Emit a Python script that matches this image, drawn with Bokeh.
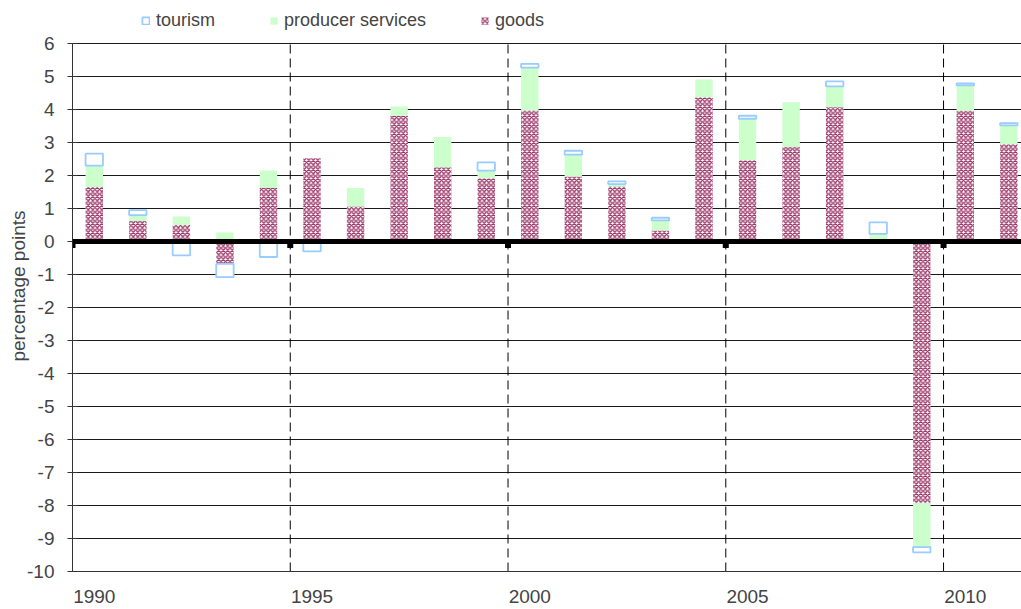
import numpy as np
from bokeh.plotting import figure
from bokeh.models import (Range1d, Span, Legend, LegendItem, ColumnDataSource,
                          FixedTicker)
from bokeh.embed import file_html
from bokeh.resources import INLINE

# Contributions to growth, percentage points
years = list(range(1990, 2012))
goods = [1.65, 0.62, 0.50, -0.68, 1.62, 2.52, 1.06, 3.81, 2.25, 1.92, 3.97,
         1.97, 1.67, 0.33, 4.37, 2.46, 2.86, 4.07, 0.00, -7.93, 3.96, 2.95]
producer_services = [0.65, 0.18, 0.26, 0.27, 0.53, 0.00, 0.56, 0.28, 0.92, 0.23, 1.30,
                     0.66, 0.07, 0.31, 0.54, 1.26, 1.36, 0.63, 0.23, -1.33, 0.77, 0.57]
tourism = [0.36, 0.15, -0.42, -0.40, -0.47, -0.30, -0.05, -0.05, -0.03, 0.25, 0.11,
           0.12, 0.08, 0.08, -0.05, 0.09, -0.05, 0.15, 0.35, -0.16, 0.06, 0.07]
tick_years = [1990, 1995, 2000, 2005, 2010]
y_ticks = list(range(-10, 7))

FONT = "Liberation Sans"
x = np.arange(len(years)) + 0.5

# stack positive and negative parts separately, goods at the base
series = [("goods", goods), ("producer services", producer_services), ("tourism", tourism)]
pos_base = np.zeros(len(years))
neg_base = np.zeros(len(years))
stacks = {}
for name, vals in series:
    v = np.array(vals, dtype=float)
    bottom = np.where(v >= 0, pos_base, neg_base)
    top = bottom + v
    pos_base = np.where(v >= 0, top, pos_base)
    neg_base = np.where(v < 0, top, neg_base)
    stacks[name] = ColumnDataSource(dict(x=x, bottom=bottom, top=top))

# the frame runs up to the top edge so the legend has room above the 6 line
ymin, ymax = y_ticks[0], y_ticks[-1]
px_per_unit = 33.0
head = 43 / px_per_unit
p = figure(frame_width=949, frame_height=571, output_backend="svg", toolbar_location=None,
           x_range=Range1d(0, 21.79), y_range=Range1d(ymin, ymax + head),
           min_border_left=72, min_border_right=0, min_border_top=0,
           min_border_bottom=38)
p.outline_line_color = None
p.background_fill_color = "white"

# grid
p.xgrid.grid_line_color = None
p.yaxis.ticker = FixedTicker(ticks=y_ticks)
p.ygrid.grid_line_color = "#1a1a1a"
p.ygrid.grid_line_width = 1

bounds = [0, 5, 10, 15, 20]
p.segment(x0=bounds[1:], y0=[ymin] * 4, x1=bounds[1:], y1=[ymax + 0.1] * 4,
          line_color="black", line_width=1, line_dash="9 5")

bar_w = 0.4
r_goods = p.vbar(x="x", bottom="bottom", top="top", width=bar_w, source=stacks["goods"],
                 fill_color="white", line_color=None,
                 hatch_pattern="diagonal_cross", hatch_color="#993366",
                 hatch_scale=4.5, hatch_weight=1.3)
r_ps = p.vbar(x="x", bottom="bottom", top="top", width=bar_w,
              source=stacks["producer services"],
              fill_color="#ccffcc", line_color=None)
r_tour = p.vbar(x="x", bottom="bottom", top="top", width=bar_w, source=stacks["tourism"],
                fill_color="white", line_color="#99ccff", line_width=1.8)

# zero line with heavy tick marks at every fifth boundary
p.add_layout(Span(location=0, dimension="width", line_color="black", line_width=5))
p.segment(x0=bounds, y0=[0] * 5, x1=bounds, y1=[-0.2] * 5,
          line_color="black", line_width=6)

# axes
p.yaxis.bounds = (ymin, ymax)
p.yaxis.major_label_overrides = {t: str(t) for t in y_ticks}
p.yaxis.axis_label = "percentage points"
p.yaxis.axis_label_text_font = FONT
p.yaxis.axis_label_text_font_style = "normal"
p.yaxis.axis_label_text_font_size = "19px"
p.yaxis.axis_label_standoff = -5
p.yaxis.major_label_text_font = FONT
p.yaxis.major_label_text_font_size = "19px"
p.yaxis.major_label_standoff = 13
p.yaxis.major_tick_in = 5
p.yaxis.major_tick_out = 5
p.yaxis.minor_tick_line_color = None
p.yaxis.axis_line_color = "#333333"
p.yaxis.major_tick_line_color = "#333333"

p.xaxis.ticker = FixedTicker(ticks=[years.index(y) + 0.5 for y in tick_years])
p.xaxis.major_label_overrides = {years.index(y) + 0.5: str(y) for y in tick_years}
p.xaxis.major_label_text_font = FONT
p.xaxis.major_label_text_font_size = "19px"
p.xaxis.major_label_standoff = 12
p.xaxis.major_tick_line_color = None
p.xaxis.minor_tick_line_color = None
p.xaxis.axis_line_color = "#333333"

legend = Legend(items=[LegendItem(label="tourism", renderers=[r_tour]),
                       LegendItem(label="producer services", renderers=[r_ps]),
                       LegendItem(label="goods", renderers=[r_goods])],
                orientation="horizontal", location=(69, 571 - 31),
                label_text_font=FONT, label_text_font_size="18px",
                glyph_width=9, glyph_height=9, label_standoff=6,
                spacing=54, padding=0, margin=0,
                border_line_color=None, background_fill_alpha=0)
p.add_layout(legend, "center")

open("out.html", "w").write(file_html(p, INLINE))
